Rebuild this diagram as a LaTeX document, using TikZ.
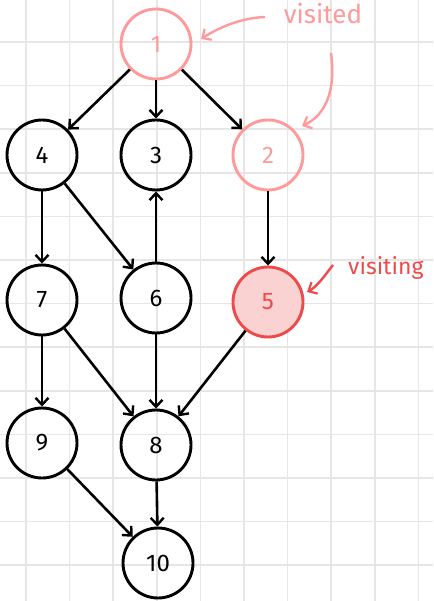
\documentclass[tikz,border=0pt]{standalone}
\usepackage{fontspec}
\setmainfont{Fira Sans}
\usetikzlibrary{arrows.meta}
\definecolor{gridc}{HTML}{E6E6E6}
\definecolor{visited}{HTML}{FF9A9A}
\definecolor{visiting}{HTML}{EE4A4A}
\definecolor{visitfill}{HTML}{FBD2D2}
\tikzset{
  vtx/.style={circle, draw=black, line width=2.9pt, minimum size=70pt, inner sep=0pt, font=\fontsize{24}{24}\selectfont},
  vdone/.style={vtx, draw=visited, text=visited},
  vnow/.style={vtx, draw=visiting, fill=visitfill, text=visiting},
  edge/.style={line width=2.6pt, -{Straight Barb[length=7pt,width=13pt,line width=2.4pt]}},
  note/.style={line width=2.4pt, -{Straight Barb[length=7pt,width=13pt,line width=2.2pt]}},
  notetext/.style={font=\fontsize{26}{26}\selectfont}
}
\begin{document}
\begin{tikzpicture}[x=1pt,y=-1pt]
\useasboundingbox (0,0) rectangle (433,601);
\fill[white] (0,0) rectangle (433,601);
% grid
\foreach \k in {0,...,9} \draw[gridc, line width=1.5pt] ({26+43.6*\k},0) -- ({26+43.6*\k},601);
\foreach \k in {0,...,13} \draw[gridc, line width=1.5pt] (0,{-1.6+43.6*\k}) -- (433,{-1.6+43.6*\k});
% nodes
\node[vdone] (n1) at (156,44) {1};
\node[vtx] (n4) at (42,155) {4};
\node[vtx] (n3) at (156,155) {3};
\node[vdone] (n2) at (268,155) {2};
\node[vtx] (n7) at (42,300) {7};
\node[vtx] (n6) at (156,298) {6};
\node[vnow] (n5) at (268,302) {5};
\node[vtx] (n9) at (42,443) {9};
\node[vtx] (n8) at (156,445) {8};
\node[vtx] (n10) at (158,563) {10};
% edges
\draw[edge] (n1) -- (n4);
\draw[edge] (n1) -- (n3);
\draw[edge] (n1) -- (n2);
\draw[edge] (n4) -- (n7);
\draw[edge] (n4) -- (n6);
\draw[edge] (n6) -- (n3);
\draw[edge] (n2) -- (n5);
\draw[edge] (n7) -- (n9);
\draw[edge] (n7) -- (n8);
\draw[edge] (n6) -- (n8);
\draw[edge] (n5) -- (n8);
\draw[edge] (n9) -- (n10);
\draw[edge] (n8) -- (n10);
% annotations
\node[notetext, text=visited] (tv) at (323,14) {visited};
\node[notetext, text=visiting, anchor=west, inner sep=0pt, font=\fontsize{23}{23}\selectfont] (tvi) at (348,268) {visiting};
\coordinate (a1s) at (265,17);
\coordinate (a1e) at (201,39);
\coordinate (a2s) at (331,53);
\coordinate (a2e) at (302,126);
\coordinate (a3s) at (333,265);
\coordinate (a3e) at (307,292);
\draw[note, visited] (a1s) .. controls (240,18) and (218,28) .. (a1e);
\draw[note, visited] (a2s) .. controls (336,90) and (326,115) .. (a2e);
\draw[note, visiting] (a3s) .. controls (325,275) and (318,286) .. (a3e);
\end{tikzpicture}
\end{document}
